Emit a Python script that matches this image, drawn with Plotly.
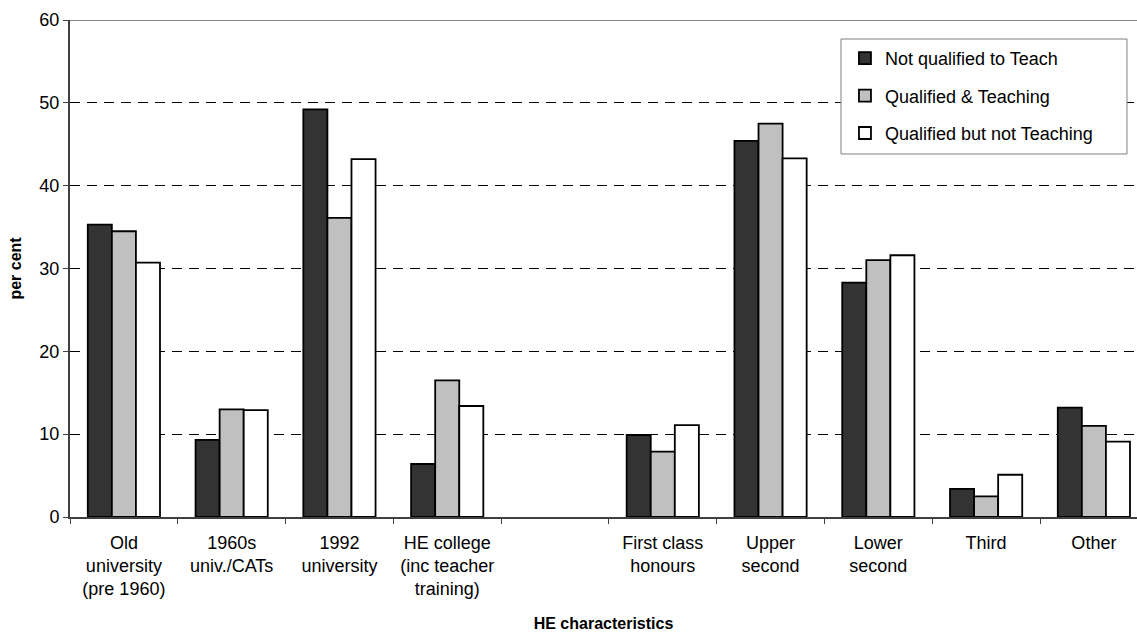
import plotly.graph_objects as go

# HE background categories (blank slot separates institution type from degree class)
categories = [
    "Old<br>university<br>(pre 1960)",
    "1960s<br>univ./CATs",
    "1992<br>university",
    "HE college<br>(inc teacher<br>training)",
    " ",
    "First class<br>honours",
    "Upper<br>second",
    "Lower<br>second",
    "Third",
    "Other",
]

not_qualified = [35.3, 9.3, 49.2, 6.4, None, 9.9, 45.4, 28.3, 3.4, 13.2]
qualified_teaching = [34.5, 13.0, 36.1, 16.5, None, 7.9, 47.5, 31.0, 2.5, 11.0]
qualified_not_teaching = [30.7, 12.9, 43.2, 13.4, None, 11.1, 43.3, 31.6, 5.1, 9.1]

series_names = ["Not qualified to Teach", "Qualified & Teaching", "Qualified but not Teaching"]
y_ticks = [0, 10, 20, 30, 40, 50, 60]

FONT = "Arial, Liberation Sans, sans-serif"
fills = ["#333333", "#C0C0C0", "#FFFFFF"]

fig = go.Figure()
for i, (name, vals) in enumerate(zip(series_names,
                                     [not_qualified, qualified_teaching, qualified_not_teaching])):
    fig.add_trace(go.Bar(
        x=categories, y=vals, name=name,
        marker=dict(color=fills[i], line=dict(color="#000000", width=1.8)),
        legendgroup=f"g{i}",
    ))

fig.update_layout(
    width=1137, height=632,
    margin=dict(l=70, r=0, t=20, b=115),
    paper_bgcolor="white", plot_bgcolor="white",
    barmode="group", bargap=0.33, bargroupgap=0,
    font=dict(family=FONT, size=18, color="#000000"),
    showlegend=True,
    legend=dict(
        x=0.7263, y=0.9598, xanchor="left", yanchor="top",
        bgcolor="rgba(0,0,0,0)", borderwidth=0,
        font=dict(family=FONT, size=18, color="#000000"),
        tracegroupgap=11, traceorder="grouped",
    ),
)

fig.update_xaxes(
    type="category", categoryorder="array", categoryarray=categories,
    range=[-0.5, 9.4], tickson="boundaries",
    ticks="outside", ticklen=5, tickcolor="#404040", tickwidth=1,
    showline=True, linecolor="#404040", linewidth=2,
    showgrid=False, tickfont=dict(family=FONT, size=18, color="#000000"),
    ticklabelstandoff=8,
    title=dict(text="<b>HE characteristics</b>", font=dict(family=FONT, size=16), standoff=21),
)

fig.update_yaxes(
    range=[0, 60], tickvals=y_ticks,
    ticks="outside", ticklen=5, tickcolor="#404040", tickwidth=1,
    showline=True, linecolor="#404040", linewidth=2,
    showgrid=True, gridcolor="#000000", gridwidth=1, griddash="10px,7px",
    zeroline=False, tickfont=dict(family=FONT, size=18, color="#000000"),
    title=dict(text="<b>per cent</b>", font=dict(family=FONT, size=16), standoff=14),
)

# solid grey frame line along the top of the plot area
fig.add_shape(type="line", xref="paper", yref="y", x0=0, x1=1, y0=60, y1=60,
              line=dict(color="#888888", width=2))

# white legend panel with grey border, drawn over the gridlines
fig.add_shape(type="rect", xref="paper", yref="paper", layer="above",
              x0=0.7226, x1=0.9906, y0=0.7304, y1=0.9618,
              fillcolor="white", line=dict(color="#808080", width=1))

fig.write_html("out.html")
